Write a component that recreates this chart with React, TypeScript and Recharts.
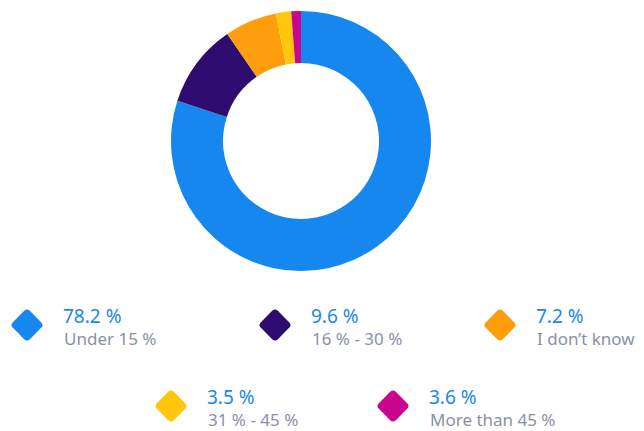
import { PieChart, Pie, Cell } from 'recharts';

const labels = ['Under 15 %', '16 % - 30 %', 'I don’t know', '31 % - 45 %', 'More than 45 %'];
const percentText = ['78.2 %', '9.6 %', '7.2 %', '3.5 %', '3.6 %'];
// slice sizes as drawn in the picture
const sliceValues = [80.0, 10.4, 6.5, 1.9, 1.2];
const colors = ['#1787f0', '#2e0c6f', '#ff9e0d', '#ffc60b', '#c9058f'];

// legend positions (diamond centre x, row centre y)
const legendPos = [
  { x: 27, y: 325 },
  { x: 275, y: 325 },
  { x: 500, y: 325 },
  { x: 171, y: 406 },
  { x: 393, y: 406 },
];

const data = labels.map((name, i) => ({ name, value: sliceValues[i] }));

export default function App() {
  return (
    <div
      style={{
        position: 'absolute',
        left: 0,
        top: 0,
        width: 644,
        height: 431,
        overflow: 'hidden',
        background: '#fff',
        fontFamily: '"Noto Sans", sans-serif',
      }}
    >
      <div style={{ position: 'absolute', left: 0, top: 0 }}>
        <PieChart width={644} height={290} margin={{ top: 0, right: 0, bottom: 0, left: 0 }}>
          <Pie
            data={data}
            dataKey="value"
            cx={301}
            cy={141}
            innerRadius={78}
            outerRadius={130}
            startAngle={90}
            endAngle={-270}
            stroke="none"
            isAnimationActive={false}
          >
            {data.map((d, i) => (
              <Cell key={d.name} fill={colors[i]} />
            ))}
          </Pie>
        </PieChart>
      </div>
      {labels.map((name, i) => (
        <div key={name}>
          <div
            style={{
              position: 'absolute',
              left: legendPos[i].x - 12,
              top: legendPos[i].y - 12,
              width: 24,
              height: 24,
              borderRadius: 4,
              background: colors[i],
              transform: 'rotate(45deg)',
            }}
          />
          <div
            style={{
              position: 'absolute',
              left: legendPos[i].x + 36,
              top: legendPos[i].y - 19,
              fontSize: 19,
              lineHeight: '20px',
              color: '#1a86f0',
              whiteSpace: 'nowrap',
            }}
          >
            {percentText[i]}
          </div>
          <div
            style={{
              position: 'absolute',
              left: legendPos[i].x + 37,
              top: legendPos[i].y + 4.5,
              fontSize: 17,
              lineHeight: '17px',
              color: '#8a90a8',
              whiteSpace: 'nowrap',
            }}
          >
            {name}
          </div>
        </div>
      ))}
    </div>
  );
}
